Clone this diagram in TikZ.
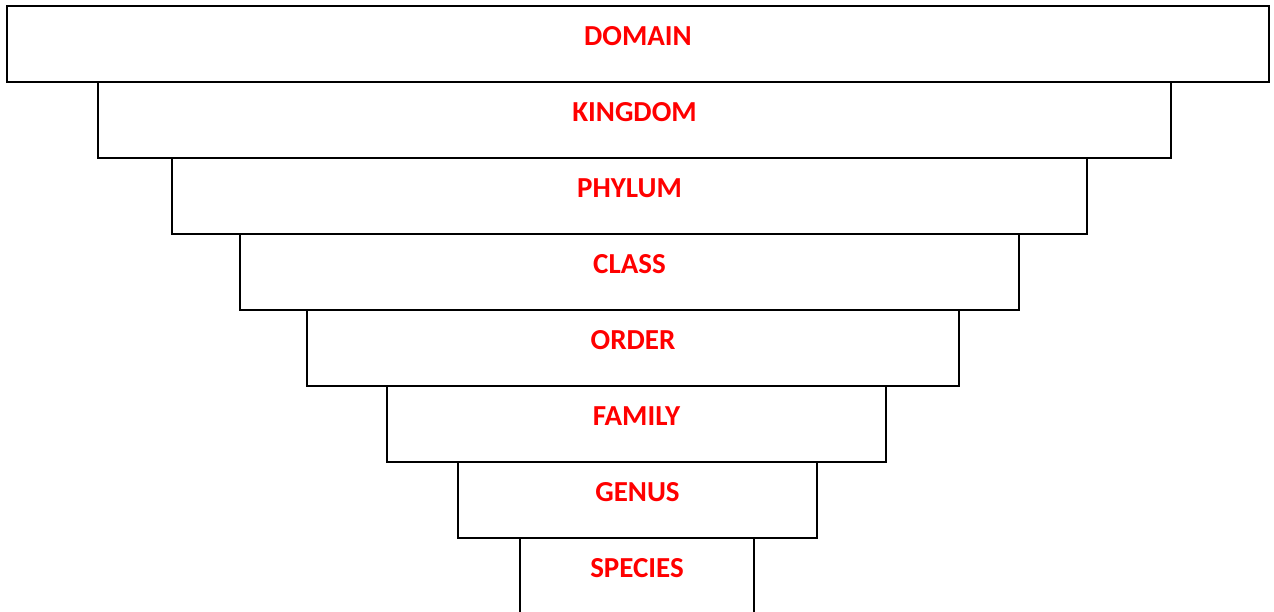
\documentclass[tikz,border=0pt]{standalone}
\usepackage{fontspec}
\setmainfont{Carlito}
\begin{document}
\begin{tikzpicture}[x=1pt,y=-1pt,
  rank/.style={draw=black,line width=1.6pt,fill=white},
  ranklabel/.style={text=red,font=\fontsize{29}{33}\selectfont\bfseries,anchor=base,inner sep=0pt}]
\useasboundingbox (0,0) rectangle (1274,611);
% nested taxonomy levels, widest first
\foreach \l/\r/\t/\name/\txt in {
  7/1269/6/domain/DOMAIN,
  98/1171/82/kingdom/KINGDOM,
  172/1087/158/phylum/PHYLUM,
  240/1019/234/class/CLASS,
  307/959/310/order/ORDER,
  387/886/386/family/FAMILY,
  458/817/462/genus/GENUS,
  520/754/538/species/SPECIES}{
  \draw[rank] (\l,\t) rectangle (\r,\t+76);
  \node[ranklabel] (\name) at ({(\l+\r)/2},\t+39) {\txt};
}
\end{tikzpicture}
\end{document}
